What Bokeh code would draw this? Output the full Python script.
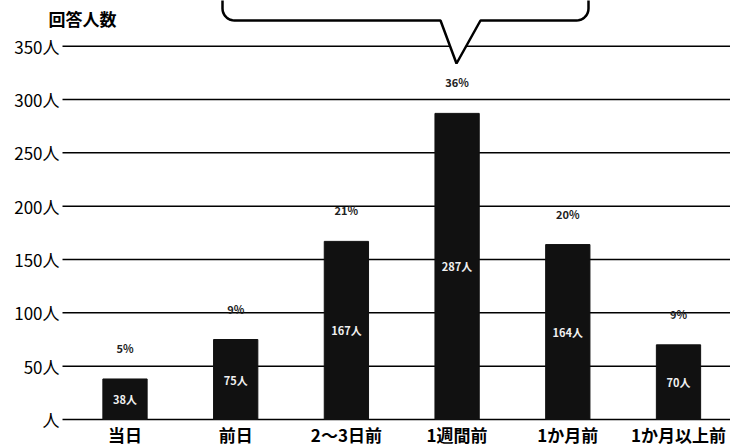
import numpy as np
from bokeh.plotting import figure
from bokeh.models import Range1d, ColumnDataSource
from bokeh.core.properties import value
from bokeh.embed import file_html
from bokeh.resources import INLINE

categories = ["当日", "前日", "2〜3日前", "1週間前", "1か月前", "1か月以上前"]
counts = [38, 75, 167, 287, 164, 70]
y_ticks = [0, 50, 100, 150, 200, 250, 300, 350]
y_title = "回答人数"

total = sum(counts)
pcts = [f"{round(c / total * 100)}%" for c in counts]
xs = list(range(len(categories)))

FONT = "Noto Sans CJK JP"

W, H = 730, 446
OX, OY = 0, 0               # picture position of the figure's top-left corner
XS = 110.7                  # px per category
X_CAT0 = 124.5              # picture x of first category
Y0PX, YS = 419, 1.0666      # picture y of value 0, px per unit

def px2x(px):
    return (px - X_CAT0) / XS

def py2y(py):
    return (Y0PX - py) / YS

p = figure(width=W, height=H, output_backend="svg", toolbar_location=None,
           x_range=Range1d(px2x(OX), px2x(OX + W)), y_range=Range1d(py2y(OY + H), py2y(OY)),
           min_border_left=0, min_border_right=0, min_border_top=0, min_border_bottom=0)
p.outline_line_color = None
p.axis.visible = False
p.grid.visible = False
p.background_fill_color = "white"
p.border_fill_color = "white"

# gridlines + y tick labels
gsrc = ColumnDataSource(dict(y=y_ticks, lab=[(f"{t}人" if t else "人") for t in y_ticks]))
p.segment(x0=px2x(62), x1=px2x(740), y0="y", y1="y", source=gsrc,
          line_color="black", line_width=1.5)
p.text(x=px2x(59), y="y", text="lab", source=gsrc, text_color="black",
       text_font=value(FONT), text_font_size="17px",
       text_align="right", text_baseline="middle")

src = ColumnDataSource(dict(x=xs, top=counts, half=[c / 2 for c in counts],
                            cnt=[f"{c}人" for c in counts], pct=pcts, cat=categories,
                            zero=[0] * len(xs)))

p.vbar(x="x", top="top", width=0.4, source=src, fill_color="#111111", line_color="#111111")

p.text(x="x", y="half", text="cnt", source=src, text_color="#f0f0f0",
       text_font=value(FONT), text_font_size="11px", text_font_style="bold",
       text_align="center", text_baseline="middle")
p.text(x="x", y="top", text="pct", source=src, text_color="#222222", y_offset=-31,
       text_font=value(FONT), text_font_size="11px", text_font_style="bold",
       text_align="center", text_baseline="middle")

# category labels under the axis
p.text(x="x", y="zero", text="cat", source=src, text_color="black", y_offset=15,
       text_font=value(FONT), text_font_size="17px", text_font_style="bold",
       text_align="center", text_baseline="middle")

# speech bubble (decoration)
r = 12
L, R, B, T = 222, 588, 20, -40
pts = [(L, T)]
for a in np.linspace(np.pi, np.pi / 2, 10):
    pts.append((L + r + r * np.cos(a), B - r + r * np.sin(a)))
pts += [(440, B), (456, 63), (480, B)]
for a in np.linspace(np.pi / 2, 0, 10):
    pts.append((R - r + r * np.cos(a), B - r + r * np.sin(a)))
pts.append((R, T))
p.patch([px2x(a) for a, b in pts], [py2y(b) for a, b in pts],
        fill_color="white", line_color="black", line_width=2.5)

# y axis title
p.text(x=[px2x(48)], y=[py2y(18)], text=[y_title], text_color="black",
       text_font=value(FONT), text_font_size="17px", text_font_style="bold",
       text_align="left", text_baseline="middle")

open("out.html", "w").write(file_html(p, INLINE))
